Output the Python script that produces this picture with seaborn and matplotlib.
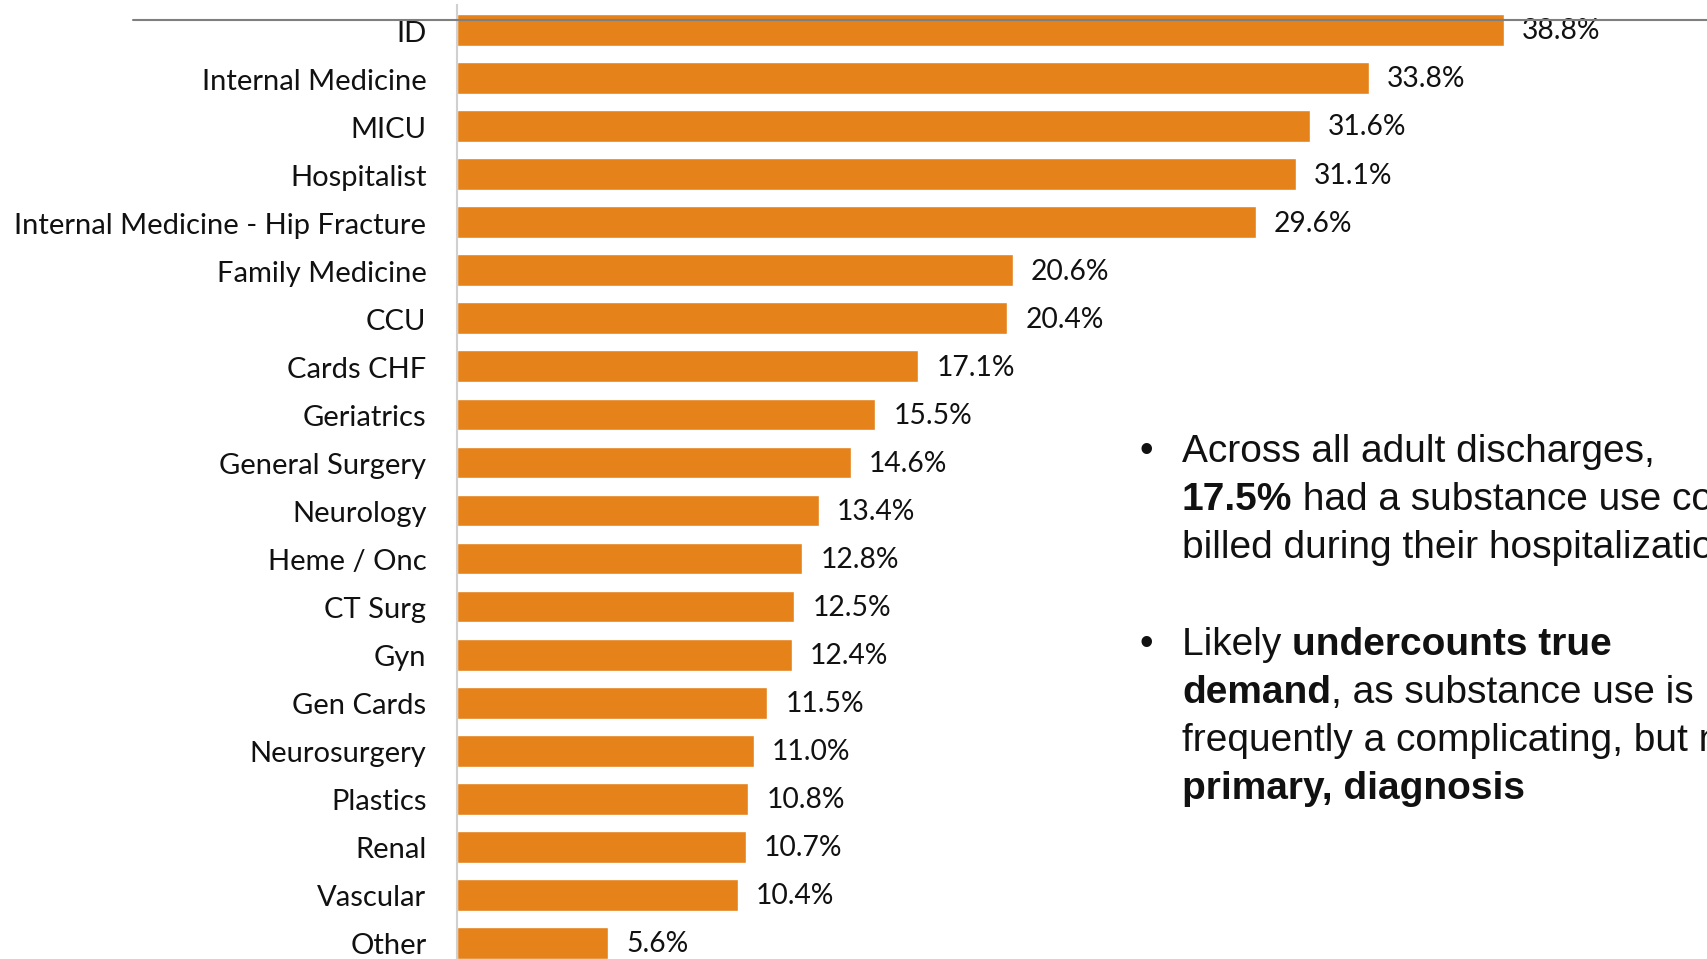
import matplotlib
matplotlib.use("Agg")
import matplotlib.pyplot as plt
import matplotlib.transforms as mtransforms
import seaborn as sns
import pandas as pd
from matplotlib.lines import Line2D

services = ["ID", "Internal Medicine", "MICU", "Hospitalist",
            "Internal Medicine - Hip Fracture", "Family Medicine", "CCU",
            "Cards CHF", "Geriatrics", "General Surgery", "Neurology",
            "Heme / Onc", "CT Surg", "Gyn", "Gen Cards", "Neurosurgery",
            "Plastics", "Renal", "Vascular", "Other"]
pct = [38.8, 33.8, 31.6, 31.1, 29.6, 20.6, 20.4, 17.1, 15.5, 14.6,
       13.4, 12.8, 12.5, 12.4, 11.5, 11.0, 10.8, 10.7, 10.4, 5.6]

df = pd.DataFrame({"service": services, "pct": pct})

sns.set_theme(style="white")
plt.rcParams["font.family"] = ["Lato", "DejaVu Sans"]

W, H = 1708, 959
fig = plt.figure(figsize=(W / 100, H / 100), dpi=100)
ax = fig.add_axes([457 / W, 0, 1 - 457 / W, 1])

sns.barplot(data=df, x="pct", y="service", orient="h", color="#E5821A",
            saturation=1, width=0.66, ax=ax)

ax.set_xlim(0, (W - 457) / 26.98)
ax.set_ylim((H - 30) / 48.05, -30 / 48.05)
ax.set_xlabel("")
ax.set_ylabel("")
ax.set_xticks([])
for s in ["top", "right", "bottom"]:
    ax.spines[s].set_visible(False)
ax.spines["left"].set_color("#d0d0d0")
ax.spines["left"].set_linewidth(1.5)
ax.spines["left"].set_bounds(-25 / 48.05, (H - 30) / 48.05)
ax.tick_params(axis="y", length=0, pad=22, labelsize=21, labelcolor="#111111")

# nudge category labels a touch below the bar centres
shift = mtransforms.ScaledTranslation(0, -1 / 100, fig.dpi_scale_trans)
for lab in ax.get_yticklabels():
    lab.set_transform(lab.get_transform() + shift)

for i, v in enumerate(pct):
    ax.annotate(f"{v:.1f}%", xy=(v, i), xytext=(13, -1),
                textcoords="offset points", va="center", ha="left",
                fontsize=20.3, color="#111111")

# thin rule across the top of the slide
fig.add_artist(Line2D([133 / W, 1.0], [1 - 19.5 / H, 1 - 19.5 / H],
                      transform=fig.transFigure, color="#7f7f7f", lw=1.5))

# bullet notes on the right
note_font = ["Liberation Sans", "DejaVu Sans"]
fs = 28
renderer = fig.canvas.get_renderer()


def rich_line(x_px, y_px, parts):
    x = x_px
    for txt, bold in parts:
        t = fig.text(x / W, 1 - y_px / H, txt, fontsize=fs, family=note_font,
                     fontweight="bold" if bold else "normal",
                     color="#111111", va="baseline", ha="left")
        x += t.get_window_extent(renderer).width


text_x = 1182
bullet_x = 1140
lines1 = [
    [("Across all adult discharges,", False)],
    [("17.5%", True), (" had a substance use condition", False)],
    [("billed during their hospitalization", False)],
]
lines2 = [
    [("Likely ", False), ("undercounts true", True)],
    [("demand", True), (", as substance use is", False)],
    [("frequently a complicating, but not", False)],
    [("primary, diagnosis", True)],
]
base1 = [462, 510, 558]
base2 = [655, 703, 751, 799]
for pos, parts in zip(base1, lines1):
    rich_line(text_x, pos, parts)
for pos, parts in zip(base2, lines2):
    rich_line(text_x, pos, parts)
for pos in (base1[0], base2[0]):
    fig.text(bullet_x / W, 1 - pos / H, "\u2022", fontsize=fs,
             family=note_font, color="#111111", va="baseline", ha="left")

fig.savefig("out.png", dpi=100)
